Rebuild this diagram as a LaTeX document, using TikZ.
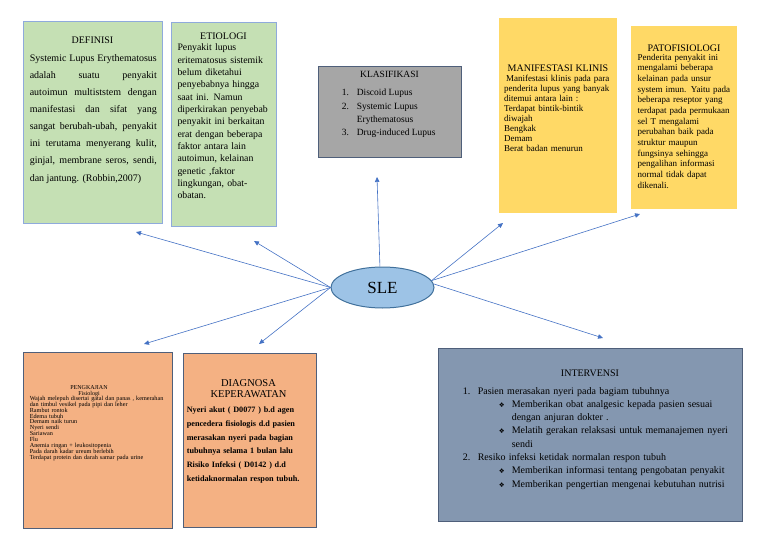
\documentclass[tikz,border=0pt]{standalone}
\usepackage{fontspec}
\setmainfont{Liberation Serif}
\newfontfamily\dejavu{DejaVu Sans}
\usepackage{tikz}
\usetikzlibrary{arrows.meta}
\usetikzlibrary{positioning}
\usetikzlibrary{shapes.geometric}

\definecolor{greenfill}{HTML}{C5E0B4}
\definecolor{greenline}{HTML}{8FAADC}
\definecolor{grayfill}{HTML}{A6A6A6}
\definecolor{yellowfill}{HTML}{FFD966}
\definecolor{orangefill}{HTML}{F4B183}
\definecolor{slatefill}{HTML}{8497B0}
\definecolor{slateline}{HTML}{4F5F7A}
\definecolor{slefill}{HTML}{9DC3E6}
\definecolor{sleline}{HTML}{41719C}
\definecolor{linkblue}{HTML}{4472C4}

\newcommand{\diabullet}{{\dejavu\fontsize{6.5}{6.5}\selectfont\char"2756}}

\tikzset{
    greenbox/.style={
      rectangle,
           draw=greenline, line width=0.8pt,
           fill=greenfill,
           inner sep=0pt,
           },
}
\tikzset{
    graybox/.style={
      rectangle,
           draw=slateline, line width=0.8pt,
           fill=grayfill,
           inner sep=0pt,
           },
}
\tikzset{
    yellowbox/.style={
      rectangle,
           fill=yellowfill,
           inner sep=0pt,
           },
}
\tikzset{
    orangebox/.style={
      rectangle,
           draw=slateline, line width=0.8pt,
           fill=orangefill,
           inner sep=0pt,
           },
}
\tikzset{
    slatebox/.style={
      rectangle,
           draw=slateline, line width=0.8pt,
           fill=slatefill,
           inner sep=0pt,
           },
}
\tikzset{
    boxtitle/.style={
      inner sep=0pt,
           align=center,
           font=\fontsize{10}{11}\selectfont,
           },
}
\tikzset{
    bodytext/.style={
      inner sep=0pt,
           align=left,
           },
}
\tikzset{
    link/.style={
      draw=linkblue, line width=0.6pt,
           -{Triangle[length=5pt,width=4.5pt]},
           },
}

\begin{document}
\begin{tikzpicture}[x=1pt,y=1pt]
\useasboundingbox (0,0) rectangle (768,-543);

% top row
\node[greenbox,minimum width=139pt,minimum height=202pt](def) at (92.5,-122){};
\node[boxtitle,below=15.6pt of def.north](deft){DEFINISI};
\node[bodytext,font=\fontsize{10}{17.14}\selectfont,text width=127pt,align=justify,below right=33.3pt and 7pt of def.north west](defb){\sloppy Systemic Lupus Erythematosus\linebreak adalah suatu penyakit\linebreak autoimun multiststem dengan\linebreak manifestasi dan sifat yang\linebreak sangat berubah-ubah, penyakit\linebreak ini terutama menyerang kulit,\linebreak ginjal, membrane seros, sendi,\linebreak dan jantung. (Robbin,2007)};

\node[greenbox,minimum width=105pt,minimum height=204pt](eti) at (223.5,-124){};
\node[boxtitle,below=10.6pt of eti.north](etit){ETIOLOGI};
\node[bodytext,font=\fontsize{9.8}{12.33}\selectfont,text width=100pt,below right=22.4pt and 6.7pt of eti.north west](etib){Penyakit lupus\\ eritematosus sistemik\\ belum diketahui\\ penyebabnya hingga\\ saat ini. Namun\\ diperkirakan penyebab\\ penyakit ini berkaitan\\ erat dengan beberapa\\ faktor antara lain\\ autoimun, kelainan\\ genetic ,faktor\\ lingkungan, obat-\\ obatan.};

\node[graybox,minimum width=143pt,minimum height=91pt](kla) at (389.5,-111.5){};
\node[boxtitle,font=\fontsize{9.5}{11}\selectfont,below=5.8pt of kla.north](klat){KLASIFIKASI};
\node[bodytext,font=\fontsize{9.5}{13.3}\selectfont,below right=23.5pt and 24pt of kla.north west](klab){\makebox[15pt][l]{1.}Discoid Lupus\\ \makebox[15pt][l]{2.}Systemic Lupus\\ \hspace*{15pt}Erythematosus\\ \makebox[15pt][l]{3.}Drug-induced Lupus};

\node[yellowbox,minimum width=118pt,minimum height=195pt](man) at (558,-115.5){};
\node[boxtitle,below=46.6pt of man.north](mant){MANIFESTASI KLINIS};
\node[bodytext,font=\fontsize{9}{10}\selectfont,text width=112pt,below right=56.8pt and 5pt of man.north west](manb){\hspace*{2pt}Manifestasi klinis pada para\\ penderita lupus yang banyak\\ ditemui antara lain :\\ Terdapat bintik-bintik\\ diwajah\\ Bengkak\\ Demam\\ Berat badan menurun};

\node[yellowbox,minimum width=106pt,minimum height=183pt](pat) at (684,-117.5){};
\node[boxtitle,below=18.6pt of pat.north](patt){PATOFISIOLOGI};
\node[bodytext,font=\fontsize{9}{10.67}\selectfont,text width=100pt,below right=27.8pt and 6.7pt of pat.north west](patb){Penderita penyakit ini\\ mengalami beberapa\\ kelainan pada unsur\\ system imun. Yaitu pada\\ beberapa reseptor yang\\ terdapat pada permukaan\\ sel T mengalami\\ perubahan baik pada\\ struktur maupun\\ fungsinya sehingga\\ pengalihan informasi\\ normal tidak dapat\\ dikenali.};

% bottom row
\node[orangebox,minimum width=149pt,minimum height=176pt](peng) at (97.5,-440){};
\node[boxtitle,font=\fontsize{6}{5.5}\selectfont,below=34pt of peng.north,xshift=-8.5pt](pengt){PENGKAJIAN\\ Fisiologi};
\node[bodytext,font=\fontsize{6.2}{5.9}\selectfont,text width=140pt,below right=44.2pt and 7pt of peng.north west](pengb){Wajah melepuh disertai gatal dan panas , kemerahan\\ dan timbul vesikel pada pipi dan leher\\ Rambut rontok\\ Edema tubuh\\ Demam naik turun\\ Nyeri sendi\\ Sariawan\\ Flu\\ Anemia ringan + leukositopenia\\ Pada darah kadar ureum berlebih\\ Terdapat protein dan darah samar pada urine};

\node[orangebox,minimum width=133pt,minimum height=174pt](diag) at (249.5,-440){};
\node[boxtitle,font=\fontsize{10.5}{11}\selectfont,below=26.4pt of diag.north,xshift=-1pt](diagt){DIAGNOSA\\ KEPERAWATAN};
\node[bodytext,font=\bfseries\fontsize{8.2}{13.8}\selectfont,text width=128pt,below right=54.1pt and 4pt of diag.north west](diagb){Nyeri akut ( D0077 ) b.d agen\\ pencedera fisiologis d.d pasien\\ merasakan nyeri pada bagian\\ tubuhnya selama 1 bulan lalu\\ Risiko Infeksi ( D0142 ) d.d\\ ketidaknormalan respon tubuh.};

\node[slatebox,minimum width=304pt,minimum height=173pt](int) at (590,-434.5){};
\node[boxtitle,below=21.6pt of int.north](intt){INTERVENSI};
\node[bodytext,font=\fontsize{10}{13.3}\selectfont,text width=275pt,below right=39.3pt and 25pt of int.north west](intb){\makebox[15pt][l]{1.}Pasien merasakan nyeri pada bagiam tubuhnya\\ \hspace*{36pt}\makebox[13pt][l]{\diabullet}Memberikan obat analgesic kepada pasien sesuai\\ \hspace*{49pt}dengan anjuran dokter .\\ \hspace*{36pt}\makebox[13pt][l]{\diabullet}Melatih gerakan relaksasi untuk memanajemen nyeri\\ \hspace*{49pt}sendi\\ \makebox[15pt][l]{2.}Resiko infeksi ketidak normalan respon tubuh\\ \hspace*{36pt}\makebox[13pt][l]{\diabullet}Memberikan informasi tentang pengobatan penyakit\\ \hspace*{36pt}\makebox[13pt][l]{\diabullet}Memberikan pengertian mengenai kebutuhan nutrisi};

% centre
\node[ellipse,draw=sleline,line width=1pt,fill=slefill,minimum width=103pt,minimum height=41pt,font=\fontsize{17}{17}\selectfont](sle) at (382.5,-287.5){SLE};

\coordinate (tdef) at (136,-232);
\coordinate (teti) at (254,-241);
\coordinate (tkla) at (377,-177);
\coordinate (tman) at (503,-223);
\coordinate (tpat) at (640,-214);
\coordinate (tint) at (603,-338);
\coordinate (tpeng) at (144,-344);
\coordinate (tdiag) at (259,-344);

\path (sle.west) edge[link](tdef);
\path (sle.west) edge[link](teti);
\path (sle.97) edge[link](tkla);
\path (sle.8) edge[link](tman);
\path (sle.8) edge[link](tpat);
\path (sle.4) edge[link](tint);
\path (sle.west) edge[link](tpeng);
\path (sle.west) edge[link](tdiag);

\end{tikzpicture}
\end{document}
